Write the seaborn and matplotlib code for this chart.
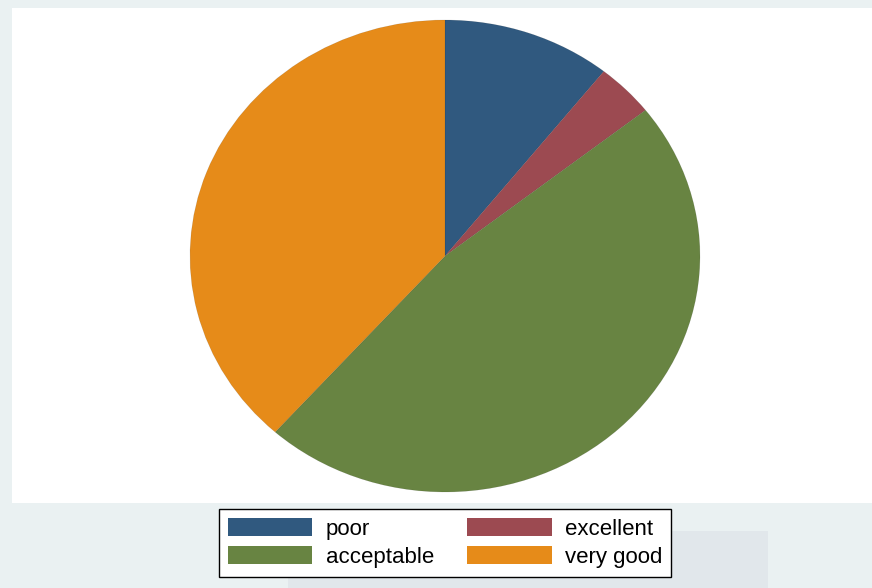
import matplotlib
matplotlib.use("Agg")
import matplotlib.pyplot as plt
from matplotlib.patches import Patch, Rectangle
import seaborn as sns

# slice shares (percent)
categories = ["poor", "excellent", "acceptable", "very good"]
shares = [10.7, 3.7, 47.2, 38.4]
colors = ["#30597F", "#9C4A51", "#688442", "#E68B19"]

sns.set_style("white")
plt.rcParams['font.family'] = ['Liberation Sans', 'DejaVu Sans']

fig = plt.figure(figsize=(8.72, 5.88), dpi=100)
fig.patch.set_facecolor("#EAF1F2")

W, H = 872, 588

# white plot region
fig.patches.append(Rectangle((12 / W, 1 - 503 / H), (872 - 12) / W, (503 - 8) / H,
                             transform=fig.transFigure, facecolor="white",
                             edgecolor="none", zorder=0))
# faint watermark block behind the legend
fig.patches.append(Rectangle((288 / W, 0), (768 - 288) / W, (588 - 531) / H,
                             transform=fig.transFigure, facecolor="#E1E7EB",
                             edgecolor="none", zorder=0))

# pie axes sized to the (slightly stretched) ellipse
ax = fig.add_axes([190 / W, 1 - 492 / H, (700 - 190) / W, (492 - 20) / H])
ax.set_zorder(2)
ax.patch.set_visible(False)
ax.pie(shares, colors=colors, startangle=90, counterclock=False,
       wedgeprops=dict(linewidth=0.4, edgecolor="#00000022"))
ax.set_aspect('auto')
ax.set_xlim(-1, 1)
ax.set_ylim(-1, 1)
ax.axis('off')

# legend, column-wise fill: poor/acceptable then excellent/very good
order = [0, 2, 1, 3]
handles = [Patch(facecolor=colors[i], edgecolor="none", label=categories[i]) for i in order]
leg = fig.legend(handles=handles, ncol=2, loc='center',
                 bbox_to_anchor=(445 / W, 1 - 543 / H), fontsize=16,
                 frameon=True, fancybox=False, framealpha=1,
                 handlelength=3.8, handleheight=0.85, handletextpad=0.6,
                 columnspacing=1.5, labelspacing=0.3, borderpad=0.4,
                 borderaxespad=0, labelcolor="black")
leg.set_zorder(3)
leg.get_frame().set_edgecolor("black")
leg.get_frame().set_linewidth(1.0)

fig.savefig("out.png", dpi=100, facecolor=fig.get_facecolor())
